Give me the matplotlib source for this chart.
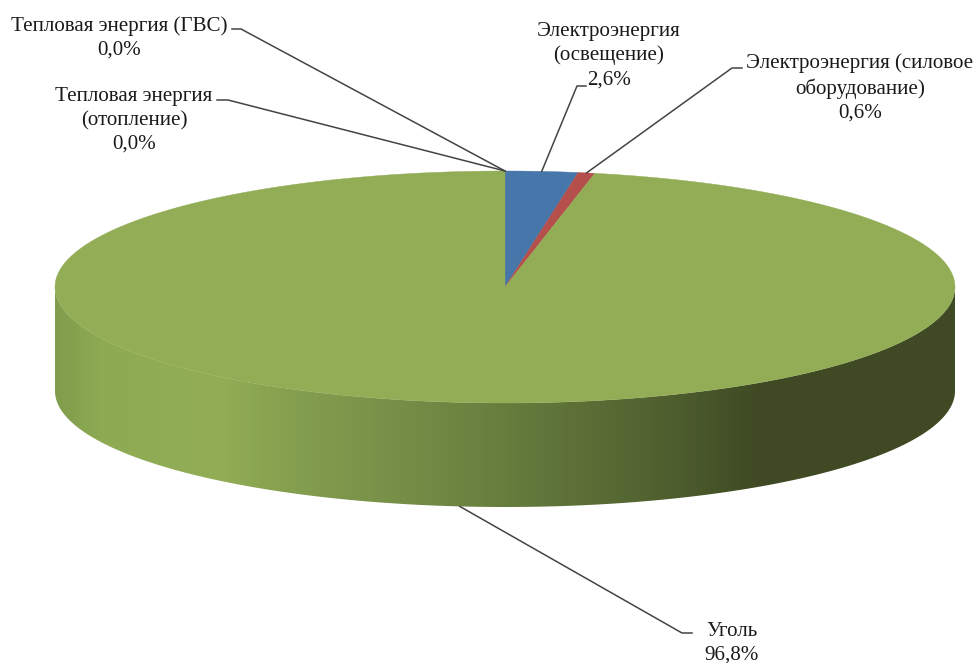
import numpy as np
import matplotlib
matplotlib.use('Agg')
import matplotlib.pyplot as plt
from matplotlib.colors import LinearSegmentedColormap
from matplotlib.patches import Polygon

# доли, по часовой стрелке от верхней точки
labels = ['Тепловая энергия\n(отопление)', 'Тепловая энергия (ГВС)',
          'Электроэнергия\n(освещение)', 'Электроэнергия (силовое\nоборудование)', 'Уголь']
values = [0.0, 0.0, 2.6, 0.6, 96.8]
colors = ['#c0504d', '#4f81bd', '#4776ab', '#b44f4b', '#92ad55']

# геометрия "3D" круга в пикселях
cx, cy, a, b, depth = 505, 287, 450, 116, 104

# подписи: центр текста и излом выноски
label_pos = [(134, 120.5), (119, 37.5), (609, 55.5), (860, 88), (732, 643.5)]
elbows = [((217, 100), (228, 100)), ((232, 29), (241, 29)), ((586, 86), (577, 86)),
          ((742, 68), (732, 68)), ((692, 633), (682, 633))]


def rim(angle):
    return cx + a * np.sin(angle), cy - b * np.cos(angle)


plt.rcParams['font.family'] = ['Liberation Serif', 'DejaVu Serif']
fig = plt.figure(figsize=(9.78, 6.63), dpi=100)
ax = fig.add_axes([0, 0, 1, 1])
ax.set_xlim(0, 978)
ax.set_ylim(663, 0)
ax.axis('off')

# боковая стенка - градиент по x
t = np.linspace(np.pi / 2, 3 * np.pi / 2, 200)
x, y = rim(t)
side = Polygon(np.r_[np.c_[x, y], np.c_[x[::-1], y[::-1] + depth]], closed=True,
               fc='none', ec='none', transform=ax.transData)
ax.add_patch(side)
stops = [(55, '#7f9d4b'), (100, '#8eab54'), (220, '#92ad55'), (290, '#859f4f'),
         (400, '#768e47'), (510, '#667c3d'), (640, '#536531'), (760, '#3f4a24'), (955, '#3f4a24')]
cmap = LinearSegmentedColormap.from_list('side', [((p - 55) / 900, c) for p, c in stops])
img = ax.imshow(np.linspace(0, 1, 900).reshape(1, -1), cmap=cmap, aspect='auto',
                extent=(55, 955, 663, 0), zorder=1)
img.set_clip_path(side)
ax.set_xlim(0, 978)
ax.set_ylim(663, 0)

# верхняя грань
edges = np.radians(np.cumsum([0] + values) * 3.6)
for i, v in enumerate(values):
    if v == 0:
        continue
    t = np.linspace(edges[i], edges[i + 1], 300)
    x, y = rim(t)
    ax.fill(np.r_[cx, x], np.r_[cy, y], color=colors[i], lw=0.3, zorder=2)

# подписи и выноски
for i, name in enumerate(labels):
    tx, ty = label_pos[i]
    ax.text(tx, ty, f'{name}\n{values[i]:.1f}%'.replace('.', ','), ha='center', va='center',
            fontsize=15.1, color='#1a1a1a', linespacing=1.33, zorder=4)
    mid = (edges[i] + edges[i + 1]) / 2
    ex, ey = rim(mid)
    if i == len(values) - 1:
        ey += depth
    (x0, y0), (x1, y1) = elbows[i]
    ax.plot([x0, x1, ex], [y0, y1, ey], color='#444444', lw=1.1, zorder=3)

fig.savefig('out.png', dpi=100)
